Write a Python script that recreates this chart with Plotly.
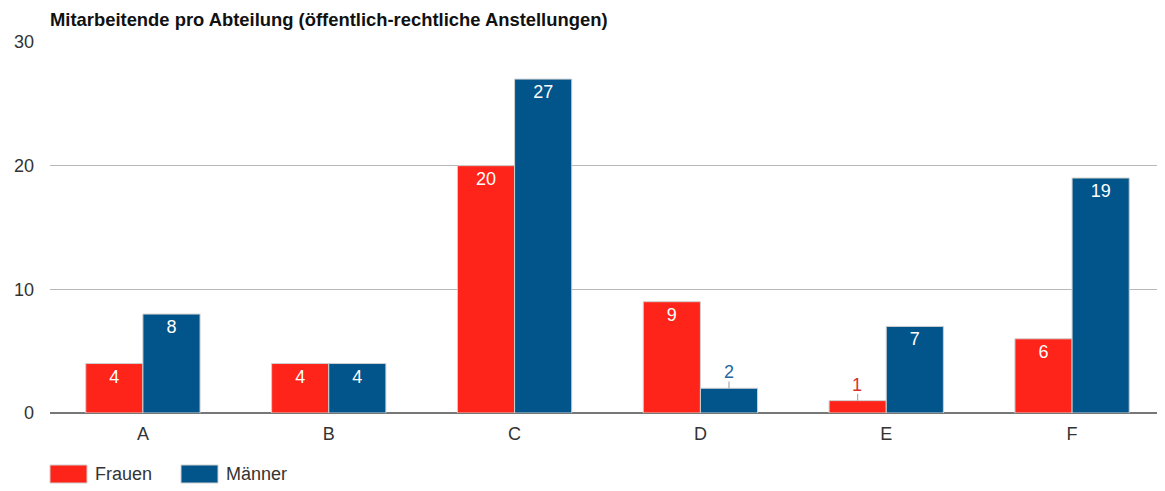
import plotly.graph_objects as go

categories = ["A", "B", "C", "D", "E", "F"]
frauen = [4, 4, 20, 9, 1, 6]
maenner = [8, 4, 27, 2, 7, 19]
y_ticks = [0, 10, 20, 30]

RED = "#ff2419"
BLUE = "#02558a"
RED_TXT = "#d8322a"
BLUE_TXT = "#2466a0"
FONT = "Liberation Sans, Arial, sans-serif"
THRESH = 3

# page body has an 8px margin; compensate
OFF = 8
W, H = 1165 - OFF, 491 - OFF
ML, MT, MB = 50 - OFF, 42 - OFF, 78

fig = go.Figure()

for name, vals, col in [("Frauen", frauen, RED), ("Männer", maenner, BLUE)]:
    fig.add_trace(go.Bar(
        name=name, x=categories, y=vals,
        marker=dict(color=col, line=dict(color="#cfcfcf", width=1)),
        text=[str(v) if v >= THRESH else "" for v in vals],
        textposition="inside", insidetextanchor="end",
        textfont=dict(color="white", size=18, family=FONT),
        error_y=dict(type="data", symmetric=False,
                     array=[0.55 if v < THRESH else 0 for v in vals],
                     arrayminus=[0] * len(vals), width=0, thickness=1,
                     color="#999999", visible=True),
        showlegend=False, cliponaxis=False,
    ))

ci = {c: i for i, c in enumerate(categories)}
for vals, tcol, off in [(frauen, RED_TXT, -0.155), (maenner, BLUE_TXT, 0.155)]:
    for c, v in zip(categories, vals):
        if v < THRESH:
            fig.add_annotation(x=ci[c] + off, y=v + 0.55, xref="x", yref="y",
                               text=str(v), showarrow=False, yanchor="bottom",
                               yshift=-3,
                               font=dict(color=tcol, size=18, family=FONT))

fig.update_layout(
    width=W, height=H,
    margin=dict(l=ML, r=0, t=MT, b=MB, pad=0),
    paper_bgcolor="white", plot_bgcolor="white",
    barmode="group", bargap=0.385, bargroupgap=0,
    font=dict(family=FONT, color="#333333", size=18),
    title=dict(text="<b>Mitarbeitende pro Abteilung (öffentlich-rechtliche Anstellungen)</b>",
               x=ML / W, xanchor="left", xref="container",
               y=1 - (20 - OFF) / H, yanchor="middle", yref="container",
               font=dict(size=18.4, family=FONT, color="#111111")),
    xaxis=dict(type="category", tickfont=dict(size=18, color="#333333"),
               showgrid=False, showline=False, ticks="", ticklabelstandoff=8,
               zeroline=False),
    yaxis=dict(range=[0, 30], tickvals=y_ticks, showgrid=True,
               gridcolor="#b8b8b8", gridwidth=1, zeroline=True,
               zerolinecolor="#777777", zerolinewidth=1.5,
               tickfont=dict(size=18, color="#333333"), ticks="",
               ticklabelstandoff=15, showline=False),
)

# custom legend (page pixel positions converted to paper coords of plot area)
PW, PH = 1115, 371
legend_items = [("Frauen", RED, 50), ("Männer", BLUE, 181)]
for label, col, x0 in legend_items:
    fig.add_shape(type="rect", xref="paper", yref="paper",
                  x0=(x0 - 50) / PW, x1=(x0 + 37 - 50) / PW,
                  y0=-(465 - 413) / PH, y1=-(483 - 413) / PH,
                  fillcolor=col, line=dict(color="#cfcfcf", width=1))
    fig.add_annotation(xref="paper", yref="paper",
                       x=(x0 + 43 - 50) / PW, y=-(474 - 413) / PH,
                       xanchor="left", yanchor="middle", showarrow=False,
                       text=label, font=dict(size=18, color="#333333", family=FONT))

fig.write_html("out.html")
